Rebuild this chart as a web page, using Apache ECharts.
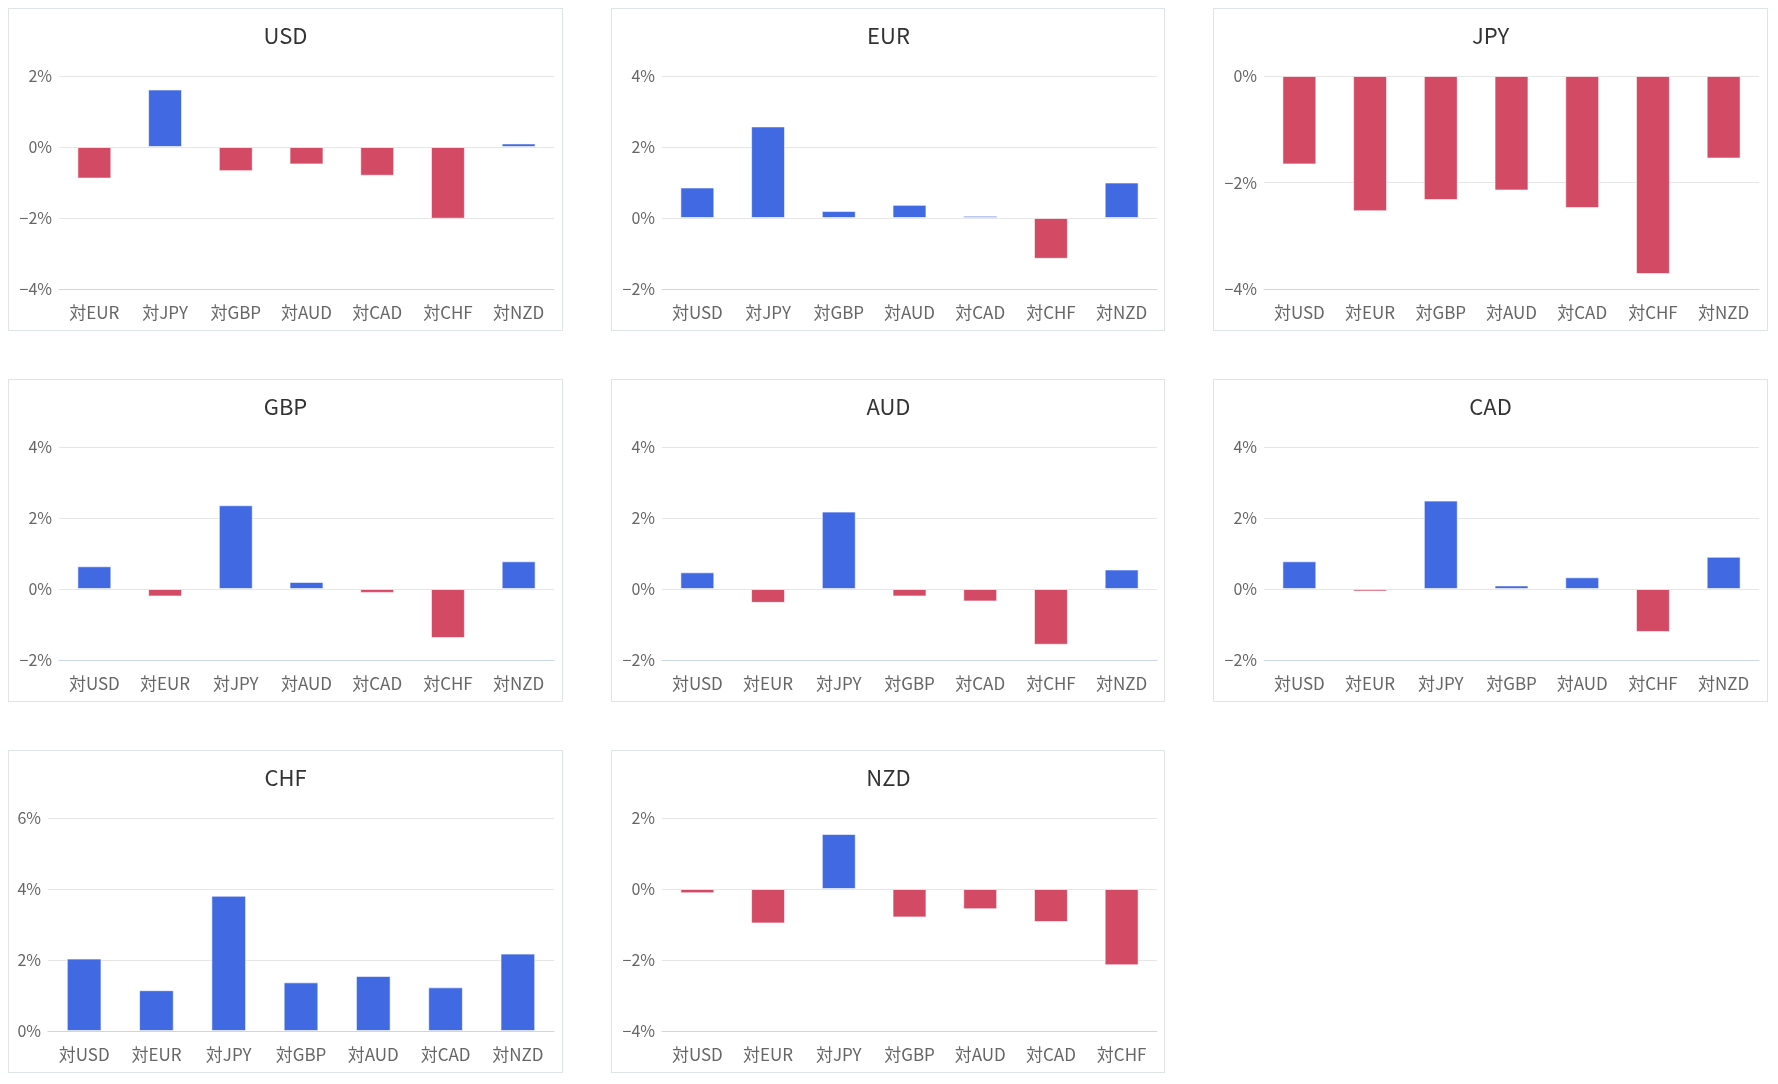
<!DOCTYPE html>
<html>
<head>
<meta charset="utf-8">
<script src="https://cdn.jsdelivr.net/npm/echarts@6/dist/echarts.min.js"></script>
<style>
  html, body { margin: 0; padding: 0; background: #ffffff; }
  #wrap {
    box-sizing: border-box;
    width: 1778px;
    padding: 8px;
    display: grid;
    grid-template-columns: 554.5px 554.5px 554.5px;
    column-gap: 48px;
    row-gap: 48px;
  }
  .panel {
    box-sizing: border-box;
    height: 323px;
    border: 1px solid #dfe5e7;
    background: #fff;
  }
  .chart { width: 100%; height: 100%; }
</style>
</head>
<body>
<div id="wrap"></div>
<script>
// Currencies (panel order)
const currencies = ['USD', 'EUR', 'JPY', 'GBP', 'AUD', 'CAD', 'CHF', 'NZD'];

// Values in %, in the order of the other currencies (self excluded)
const usdValues = [-0.89, 1.62, -0.68, -0.49, -0.81, -2.02, 0.10];
const eurValues = [0.86, 2.58, 0.20, 0.37, 0.06, -1.15, 1.00];
const jpyValues = [-1.66, -2.54, -2.33, -2.15, -2.48, -3.72, -1.55];
const gbpValues = [0.64, -0.21, 2.36, 0.20, -0.11, -1.38, 0.78];
const audValues = [0.47, -0.39, 2.18, -0.21, -0.35, -1.57, 0.55];
const cadValues = [0.78, -0.07, 2.49, 0.10, 0.33, -1.21, 0.91];
const chfValues = [2.04, 1.15, 3.81, 1.37, 1.55, 1.23, 2.18];
const nzdValues = [-0.12, -0.97, 1.55, -0.80, -0.57, -0.93, -2.15];

// Y axis tick ranges (%)
const yMins = [-4, -2, -4, -2, -2, -2, 0, -4];
const yMaxs = [2, 4, 0, 4, 4, 4, 6, 2];
const yInterval = 2;

const allValues = [usdValues, eurValues, jpyValues, gbpValues, audValues, cadValues, chfValues, nzdValues];

const POS = '#4169e1';
const NEG = '#d34a65';
const FONT = '"Noto Sans CJK JP", "Noto Sans", sans-serif';

const wrap = document.getElementById('wrap');
currencies.forEach(function (cur, i) {
  const panel = document.createElement('div');
  panel.className = 'panel';
  const el = document.createElement('div');
  el.className = 'chart';
  panel.appendChild(el);
  wrap.appendChild(panel);

  const cats = currencies.filter(function (c) { return c !== cur; }).map(function (c) { return '対' + c; });
  const data = allValues[i].map(function (v) {
    return { value: v, itemStyle: { color: v >= 0 ? POS : NEG } };
  });
  const hasNeg = yMins[i] < 0;

  const chart = echarts.init(el, null, { renderer: 'canvas' });
  chart.setOption({
    animation: false,
    textStyle: { fontFamily: FONT },
    title: {
      text: cur,
      left: 'center',
      top: 15,
      padding: 0,
      textStyle: { fontFamily: FONT, fontSize: 22, fontWeight: 'normal', color: '#333333', lineHeight: 24 }
    },
    grid: { left: hasNeg ? 50 : 39, right: 8, top: 67, bottom: 41 },
    xAxis: {
      type: 'category',
      data: cats,
      axisLine: { onZero: false, lineStyle: { color: '#ccd6eb', width: 1 } },
      axisTick: { show: false },
      axisLabel: { color: '#666666', fontSize: 17, fontFamily: FONT, margin: 15, interval: 0 },
      splitLine: { show: false }
    },
    yAxis: {
      type: 'value',
      min: yMins[i],
      max: yMaxs[i],
      interval: yInterval,
      axisLine: { show: false },
      axisTick: { show: false },
      axisLabel: {
        color: '#666666', fontSize: 16, fontFamily: FONT, margin: 7,
        formatter: function (v) { return (v < 0 ? '\u2212' + Math.abs(v) : v) + '%'; }
      },
      splitLine: { lineStyle: { color: '#e6e6e6', width: 1 } }
    },
    series: [{
      type: 'bar',
      data: data,
      barWidth: '48%',
      itemStyle: { borderColor: 'rgba(255,255,255,0.6)', borderWidth: 1 }
    }]
  });
});
</script>
</body>
</html>
